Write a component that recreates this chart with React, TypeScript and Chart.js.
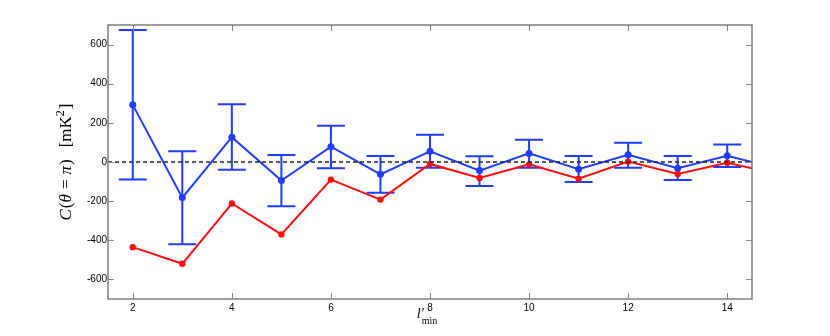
import React, { useEffect, useRef } from 'react';
import { Chart, registerables } from 'chart.js';

Chart.register(...registerables);

// l'_min values (the last one lies beyond the visible range and is clipped)
const lMin = [2, 3, 4, 5, 6, 7, 8, 9, 10, 11, 12, 13, 14, 15];
const blueValues = [292, -182, 127, -95, 78, -63, 55, -44, 44, -37, 37, -32, 32, -32];
const blueUpper = [675, 55, 295, 36, 185, 31, 139, 29, 114, 31, 98, 31, 90, 30];
const blueLower = [-90, -420, -40, -226, -32, -157, -29, -122, -29, -102, -29, -92, -26, -95];
const redValues = [-435, -520, -212, -370, -90, -192, -10, -82, -12, -85, 2, -61, -4, -60];

const xTicks = [2, 4, 6, 8, 10, 12, 14];
const yTicks = [-600, -400, -200, 0, 200, 400, 600];
const xRange = [1.5, 14.5];
const yRange = [-700, 700];

const BLUE = '#1f3cff';
const RED = '#ff0d0d';

const App: React.FC = () => {
  const ref = useRef<HTMLCanvasElement | null>(null);

  useEffect(() => {
    if (!ref.current) return;

    const errorBars = {
      id: 'errorBars',
      afterDatasetDraw(chart: any, args: any) {
        if (args.index !== 1) return;
        const { ctx, chartArea, scales } = chart;
        const xs = scales.x;
        const ys = scales.y;
        ctx.save();
        ctx.beginPath();
        ctx.rect(chartArea.left, chartArea.top, chartArea.right - chartArea.left, chartArea.bottom - chartArea.top);
        ctx.clip();
        ctx.strokeStyle = BLUE;
        ctx.lineWidth = 2;
        const cap = 14;
        lMin.forEach((l, i) => {
          const px = xs.getPixelForValue(l);
          const pt = ys.getPixelForValue(blueUpper[i]);
          const pb = ys.getPixelForValue(blueLower[i]);
          ctx.beginPath();
          ctx.moveTo(px, pt);
          ctx.lineTo(px, pb);
          ctx.moveTo(px - cap, pt);
          ctx.lineTo(px + cap, pt);
          ctx.moveTo(px - cap, pb);
          ctx.lineTo(px + cap, pb);
          ctx.stroke();
        });
        ctx.restore();
      },
    };

    const frame = {
      id: 'frame',
      afterDraw(chart: any) {
        const { ctx, chartArea, scales } = chart;
        const { left, right, top, bottom } = chartArea;
        const xs = scales.x;
        const ys = scales.y;
        ctx.save();
        // zero reference line
        ctx.strokeStyle = '#222';
        ctx.lineWidth = 1.6;
        ctx.setLineDash([4, 3]);
        const y0 = ys.getPixelForValue(0);
        ctx.beginPath();
        ctx.moveTo(left, y0);
        ctx.lineTo(right, y0);
        ctx.stroke();
        ctx.setLineDash([]);
        // ticks inside
        ctx.strokeStyle = '#8a8a8a';
        ctx.lineWidth = 1;
        const tl = 6;
        xTicks.forEach((v) => {
          const px = Math.round(xs.getPixelForValue(v)) + 0.5;
          ctx.beginPath();
          ctx.moveTo(px, bottom);
          ctx.lineTo(px, bottom - tl);
          ctx.moveTo(px, top);
          ctx.lineTo(px, top + tl);
          ctx.stroke();
        });
        yTicks.forEach((v) => {
          const py = Math.round(ys.getPixelForValue(v)) + 0.5;
          ctx.beginPath();
          ctx.moveTo(left, py);
          ctx.lineTo(left + tl, py);
          ctx.moveTo(right, py);
          ctx.lineTo(right - tl, py);
          ctx.stroke();
        });
        // frame
        ctx.strokeStyle = '#6a6a6a';
        ctx.lineWidth = 1.3;
        ctx.strokeRect(left, top, right - left, bottom - top);

        // x axis title: l'_min
        ctx.fillStyle = '#000';
        ctx.textBaseline = 'alphabetic';
        ctx.textAlign = 'left';
        const cx = (left + right) / 2;
        ctx.font = 'italic 14px "Liberation Serif"';
        const lTxt = 'l\u2032';
        const wl = ctx.measureText(lTxt).width;
        ctx.font = '10px "Liberation Serif"';
        const wm = ctx.measureText('min').width;
        const startX = cx - (wl + wm) / 2 - 2;
        ctx.font = 'italic 14px "Liberation Serif"';
        ctx.fillText(lTxt, startX, 318);
        ctx.font = '10px "Liberation Serif"';
        ctx.fillText('min', startX + wl - 2, 324);

        // y axis title: C(θ = π) [mK²]
        const F = '17px "Liberation Serif"';
        const FI = 'italic 17px "Liberation Serif"';
        // [text, font, baseline shift, gap after]
        const segs: [string, string, number, number][] = [
          ['C', FI, 0, 1],
          ['(', F, 0, 0],
          ['\u03b8', FI, 0, 5],
          ['=', F, 0, 5],
          ['\u03c0', FI, 0, 1],
          [')', F, 0, 12],
          ['[mK', F, 0, 0],
          ['2', '12px "Liberation Serif"', -7, 1],
          [']', F, 0, 0],
        ];
        let total = 0;
        const widths = segs.map(([t, f, , g]) => {
          ctx.font = f;
          const w = ctx.measureText(t).width;
          total += w + g;
          return w;
        });
        ctx.translate(71, (top + bottom) / 2);
        ctx.rotate(-Math.PI / 2);
        let x = -total / 2;
        segs.forEach(([t, f, dy, g], i) => {
          ctx.font = f;
          ctx.fillText(t, x, dy);
          x += widths[i] + g;
        });
        ctx.restore();
      },
    };

    const chart = new Chart(ref.current, {
      type: 'line',
      data: {
        datasets: [
          {
            label: 'red',
            data: lMin.map((l, i) => ({ x: l, y: redValues[i] })),
            borderColor: RED,
            backgroundColor: RED,
            pointBackgroundColor: RED,
            pointBorderColor: RED,
            borderWidth: 2,
            pointRadius: 3.2,
            pointBorderWidth: 0,
            tension: 0,
          },
          {
            label: 'blue',
            data: lMin.map((l, i) => ({ x: l, y: blueValues[i] })),
            borderColor: BLUE,
            backgroundColor: BLUE,
            pointBackgroundColor: BLUE,
            pointBorderColor: BLUE,
            borderWidth: 2,
            pointRadius: 3.5,
            pointBorderWidth: 0,
            tension: 0,
          },
        ],
      },
      options: {
        animation: false,
        responsive: false,
        maintainAspectRatio: false,
        layout: { padding: { left: 0, top: 25, right: 78, bottom: 0 } },
        plugins: {
          legend: { display: false },
          tooltip: { enabled: false },
        },
        scales: {
          x: {
            type: 'linear',
            min: xRange[0],
            max: xRange[1],
            afterBuildTicks: (s: any) => {
              s.ticks = xTicks.map((v) => ({ value: v }));
            },
            afterFit: (s: any) => {
              s.height = 37;
            },
            grid: { display: false, drawTicks: false },
            border: { display: false },
            ticks: {
              color: '#000',
              font: { family: '"Liberation Sans", Arial', size: 10 },
              padding: 3,
              maxRotation: 0,
              callback: (v: any) => String(v),
            },
          },
          y: {
            type: 'linear',
            min: yRange[0],
            max: yRange[1],
            afterBuildTicks: (s: any) => {
              s.ticks = yTicks.map((v) => ({ value: v }));
            },
            afterFit: (s: any) => {
              s.width = 108;
            },
            grid: { display: false, drawTicks: false },
            border: { display: false },
            ticks: {
              color: '#000',
              font: { family: '"Liberation Sans", Arial', size: 10 },
              padding: 1,
              callback: (v: any) => String(v),
            },
          },
        },
      },
      plugins: [errorBars, frame],
    });

    return () => chart.destroy();
  }, []);

  return (
    <div style={{ position: 'absolute', left: 0, top: 0, width: 830, height: 336, background: '#fff' }}>
      <canvas ref={ref} width={830} height={336} style={{ width: 830, height: 336 }} />
    </div>
  );
};

export default App;
